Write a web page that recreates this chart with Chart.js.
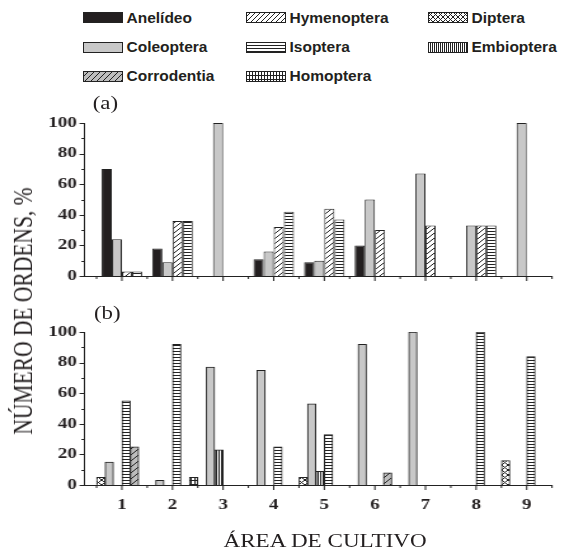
<!DOCTYPE html>
<html>
<head>
<meta charset="utf-8">
<script src="https://cdn.jsdelivr.net/npm/chart.js@4.4.0/dist/chart.umd.min.js"></script>
<style>
  html, body { margin:0; padding:0; background:#fff; width:566px; height:551px; overflow:hidden; }
  #stage { position:absolute; left:0; top:0; width:446px; height:551px; transform:scaleX(1.27); transform-origin:0 0; }
  #stage canvas { position:absolute; left:0; top:0; }
  .serif { position:absolute; font-family:"Liberation Serif","Times New Roman",serif; color:#231f20; white-space:nowrap; line-height:1; }
  .leg-text { position:absolute; font-family:"Liberation Sans",Arial,sans-serif; font-weight:bold; font-size:15.5px; line-height:18px; height:18px; color:#231f20; white-space:nowrap; }
  .leg-sw { position:absolute; }
</style>
</head>
<body>
<div id="legend"></div>
<div id="stage">
  <canvas id="chartA" width="446" height="551"></canvas>
  <canvas id="chartB" width="446" height="551"></canvas>
  <div class="serif" style="left:73px; top:94px; font-size:18px;">(a)</div>
  <div class="serif" style="left:74px; top:304px; font-size:18px;">(b)</div>
  <div class="serif" id="xtitle" style="left:256px; top:532px; font-size:18.2px; transform:translateX(-50%);">ÁREA DE CULTIVO</div>
  <div class="serif" id="ytitle" style="left:19px; top:311px; font-size:21.5px; transform:translate(-50%,-50%) rotate(-90deg);">NÚMERO DE ORDENS, %</div>
</div>
<script>
// ---------- data ----------
const categories = [1, 2, 3, 4, 5, 6, 7, 8, 9];
const yMajorTicks = [0, 20, 40, 60, 80, 100];
const yMinorTicks = [10, 30, 50, 70, 90];
const xMinorTicks = [0.5, 1.5, 2.5, 3.5, 4.5, 5.5, 6.5, 7.5, 8.5, 9.5];

// Panel (a)
const anelideoA    = [70, 18, null, 11, 9, 20, null, null, null];
const coleopteraA  = [24, 9, 100, 16, 10, 50, 67, 33, 100];
const hymenopteraA = [3, 36, null, 32, 44, 30, 33, 33, null];
const isopteraA    = [3, 36, null, 42, 37, null, null, 33, null];

// Panel (b)
const dipteraB     = [5, null, null, null, 5, null, null, null, 16];
const coleopteraB  = [15, 3, 77, 75, 53, 92, 100, null, null];
const embiopteraB  = [null, null, 23, null, 9, null, null, null, null];
const isopteraB    = [55, 92, null, 25, 33, null, null, 100, 84];
const corrodentiaB = [25, null, null, null, null, 8, null, null, null];
const homopteraB   = [null, 5, null, null, null, null, null, null, null];

const legendNames = ['Anelídeo', 'Coleoptera', 'Corrodentia', 'Hymenoptera', 'Isoptera', 'Homoptera', 'Diptera', 'Embioptera'];

// ---------- styles ----------
const INK = '#222';
const pctx = document.createElement('canvas').getContext('2d');
function tile(w, h, bg, draw) {
  const c = document.createElement('canvas'); c.width = w; c.height = h;
  const g = c.getContext('2d');
  g.fillStyle = bg; g.fillRect(0, 0, w, h);
  g.strokeStyle = INK; g.fillStyle = INK; g.lineWidth = 1;
  draw(g, w, h);
  return pctx.createPattern(c, 'repeat');
}
function diag(g, w, h) {
  g.beginPath();
  g.moveTo(-1, h + 1); g.lineTo(w + 1, -1);
  g.moveTo(-1, 1); g.lineTo(1, -1);
  g.moveTo(w - 1, h + 1); g.lineTo(w + 1, h - 1);
  g.stroke();
}
function cross(g, w, h) {
  diag(g, w, h);
  g.beginPath();
  g.moveTo(-1, -1); g.lineTo(w + 1, h + 1);
  g.moveTo(w - 1, -1); g.lineTo(w + 1, 1);
  g.moveTo(-1, h - 1); g.lineTo(1, h + 1);
  g.stroke();
}
const styles = {
  'Anelídeo':    '#231f20',
  'Coleoptera':  '#c8c8c8',
  'Hymenoptera': tile(5, 5, '#fff', diag),
  'Corrodentia': tile(6, 6, '#bdbdbd', diag),
  'Isoptera':    tile(4, 3, '#fff', (g, w) => g.fillRect(0, 0, w, 1)),
  'Homoptera':   tile(3, 4, '#fff', (g, w, h) => { g.fillRect(0, 0, w, 1); g.fillRect(0, 0, 1, h); }),
  'Diptera':     tile(5, 5, '#fff', cross),
  'Embioptera':  tile(2, 4, '#fff', (g, w, h) => g.fillRect(0, 0, 1, h))
};

// ---------- legend (HTML) ----------
const legendCols = [83, 246, 428];
const legendRows = [17.5, 47, 76];
const legend = document.getElementById('legend');
legendNames.forEach((name, i) => {
  const col = Math.floor(i / 3), row = i % 3;
  const sw = document.createElement('canvas');
  sw.width = 40; sw.height = 11; sw.className = 'leg-sw';
  sw.style.left = legendCols[col] + 'px';
  sw.style.top = (legendRows[row] - 5.5) + 'px';
  const g = sw.getContext('2d');
  g.fillStyle = styles[name]; g.fillRect(0, 0, 40, 11);
  g.strokeStyle = INK; g.lineWidth = 1; g.strokeRect(0.5, 0.5, 39, 10);
  legend.appendChild(sw);
  const t = document.createElement('div');
  t.className = 'leg-text';
  t.textContent = name;
  t.style.left = (legendCols[col] + 43.5) + 'px';
  t.style.top = (legendRows[row] - 9) + 'px';
  legend.appendChild(t);
});

// ---------- charts ----------
const tickMarks = {
  id: 'tickMarks',
  afterDraw(chart) {
    const { ctx, chartArea: a, scales: { x, y } } = chart;
    ctx.save();
    ctx.strokeStyle = INK; ctx.lineWidth = 1;
    ctx.beginPath();
    yMajorTicks.forEach(v => { const p = Math.round(y.getPixelForValue(v)) + 0.5; ctx.moveTo(a.left, p); ctx.lineTo(a.left - 3.5, p); });
    yMinorTicks.forEach(v => { const p = Math.round(y.getPixelForValue(v)) + 0.5; ctx.moveTo(a.left, p); ctx.lineTo(a.left - 2, p); });
    categories.forEach(v => { const p = x.getPixelForValue(v); ctx.moveTo(p, a.bottom); ctx.lineTo(p, a.bottom + 5); });
    xMinorTicks.forEach(v => { const p = x.getPixelForValue(v); ctx.moveTo(p, a.bottom); ctx.lineTo(p, a.bottom + 3); });
    ctx.stroke();
    ctx.restore();
  }
};

const tickFont = { family: '"Liberation Serif", "Times New Roman", serif', size: 15, weight: 'bold' };

function ds(label, values) {
  return {
    label,
    data: categories.map((c, i) => ({ x: c, y: values[i] })),
    backgroundColor: styles[label],
    borderColor: INK,
    borderWidth: 1
  };
}

function makeChart(id, datasets, o) {
  return new Chart(document.getElementById(id), {
    type: 'bar',
    data: { datasets },
    options: {
      responsive: false,
      animation: false,
      devicePixelRatio: 1,
      layout: { padding: { top: o.top, left: 0, right: 11.35, bottom: 0 } },
      plugins: { legend: { display: false }, tooltip: { enabled: false } },
      datasets: { bar: { categoryPercentage: o.cat, barPercentage: 1 } },
      scales: {
        x: {
          type: 'linear', min: 0.25, max: 9.5, offset: false,
          grid: { display: false, offset: false, drawTicks: false, tickLength: 0 },
          border: { display: true, color: INK, width: 1 },
          afterBuildTicks: s => { s.ticks = categories.map(v => ({ value: v })); },
          afterFit: s => { s.height = o.xh; },
          ticks: { display: o.showX, padding: 11, font: tickFont, color: '#231f20', autoSkip: false, maxRotation: 0 }
        },
        y: {
          min: 0, max: 100,
          grid: { display: false, drawTicks: false, tickLength: 0 },
          border: { display: true, color: INK, width: 1 },
          afterBuildTicks: s => { s.ticks = yMajorTicks.map(v => ({ value: v })); },
          afterFit: s => { s.width = 66.1; },
          ticks: { padding: 5.5, font: tickFont, color: '#231f20' }
        }
      }
    },
    plugins: [tickMarks]
  });
}

makeChart('chartA', [
  ds('Anelídeo', anelideoA),
  ds('Coleoptera', coleopteraA),
  ds('Hymenoptera', hymenopteraA),
  ds('Isoptera', isopteraA)
], { top: 123, xh: 275, cat: 0.8, showX: false });

makeChart('chartB', [
  ds('Diptera', dipteraB),
  ds('Coleoptera', coleopteraB),
  ds('Embioptera', embiopteraB),
  ds('Isoptera', isopteraB),
  ds('Corrodentia', corrodentiaB),
  ds('Homoptera', homopteraB)
], { top: 332, xh: 66, cat: 1.0, showX: true });
</script>
</body>
</html>
